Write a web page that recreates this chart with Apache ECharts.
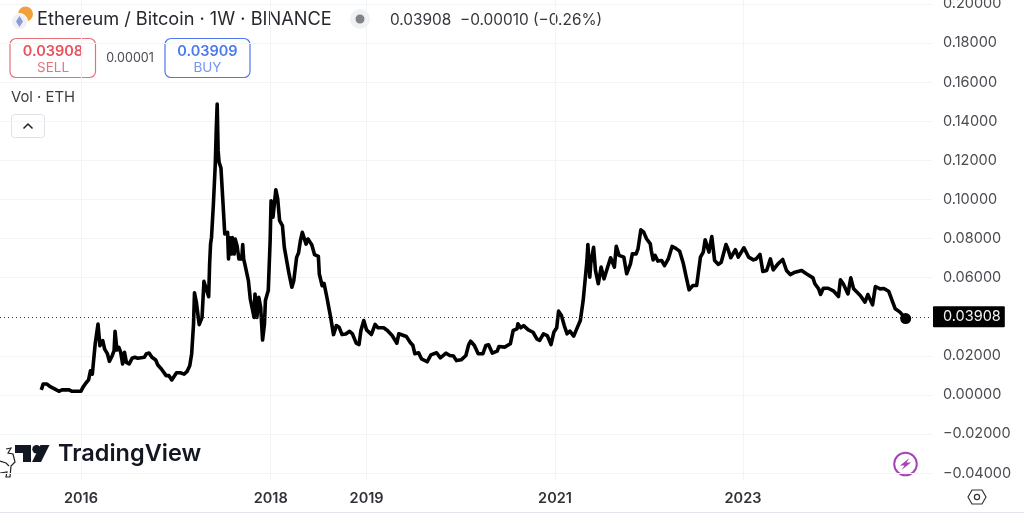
<!DOCTYPE html>
<html>
<head>
<meta charset="utf-8">
<style>
html,body{margin:0;padding:0;background:#fff}
#main{width:1024px;height:515px}
</style>
<script src="https://cdn.jsdelivr.net/npm/echarts@6/dist/echarts.min.js"></script>
</head>
<body>
<div id="main"></div>
<script>
// x positions are decimal years
var years = [2015.58,2015.60,2015.62,2015.64,2015.67,2015.71,2015.74,2015.77,2015.80,2015.83,2015.87,2015.90,2015.95,2016.00,2016.02,2016.05,2016.08,2016.10,2016.12,2016.13,
2016.15,2016.18,2016.20,2016.23,2016.25,2016.28,2016.30,2016.33,2016.35,2016.36,2016.38,2016.40,2016.42,2016.44,2016.46,2016.48,2016.51,2016.54,2016.57,2016.60,
2016.62,2016.67,2016.69,2016.72,2016.75,2016.79,2016.81,2016.85,2016.90,2016.93,2016.96,2016.98,2017.01,2017.05,2017.09,2017.12,2017.15,2017.17,2017.19,2017.20,
2017.22,2017.24,2017.25,2017.28,2017.30,2017.31,2017.33,2017.35,2017.36,2017.37,2017.38,2017.40,2017.42,2017.43,2017.44,2017.45,2017.46,2017.48,2017.50,2017.52,
2017.55,2017.56,2017.57,2017.59,2017.60,2017.62,2017.63,2017.65,2017.67,2017.70,2017.71,2017.72,2017.74,2017.77,2017.79,2017.80,2017.83,2017.84,2017.86,2017.88,
2017.90,2017.92,2017.94,2017.95,2017.98,2018.00,2018.01,2018.03,2018.06,2018.08,2018.10,2018.13,2018.15,2018.17,2018.20,2018.23,2018.25,2018.28,2018.30,2018.32,
2018.34,2018.36,2018.38,2018.40,2018.44,2018.47,2018.51,2018.52,2018.55,2018.57,2018.60,2018.62,2018.64,2018.66,2018.67,2018.70,2018.73,2018.76,2018.80,2018.84,
2018.87,2018.91,2018.94,2018.96,2018.99,2019.02,2019.07,2019.11,2019.14,2019.20,2019.24,2019.29,2019.34,2019.36,2019.39,2019.44,2019.48,2019.51,2019.53,2019.57,
2019.60,2019.66,2019.70,2019.76,2019.80,2019.86,2019.90,2019.94,2019.97,2020.02,2020.07,2020.10,2020.12,2020.16,2020.20,2020.25,2020.28,2020.31,2020.35,2020.40,
2020.42,2020.48,2020.54,2020.57,2020.61,2020.62,2020.65,2020.68,2020.73,2020.78,2020.82,2020.85,2020.89,2020.93,2020.97,2021.00,2021.03,2021.05,2021.08,2021.11,
2021.14,2021.17,2021.21,2021.25,2021.28,2021.31,2021.35,2021.36,2021.38,2021.39,2021.42,2021.44,2021.47,2021.50,2021.53,2021.58,2021.60,2021.64,2021.66,2021.69,
2021.74,2021.77,2021.79,2021.81,2021.83,2021.87,2021.89,2021.92,2021.95,2021.98,2022.02,2022.03,2022.05,2022.07,2022.10,2022.14,2022.17,2022.21,2022.25,2022.28,
2022.33,2022.37,2022.40,2022.43,2022.47,2022.51,2022.55,2022.58,2022.60,2022.64,2022.67,2022.70,2022.74,2022.77,2022.82,2022.84,2022.87,2022.92,2022.95,2023.01,
2023.06,2023.11,2023.14,2023.18,2023.21,2023.25,2023.29,2023.32,2023.37,2023.42,2023.46,2023.50,2023.55,2023.62,2023.67,2023.74,2023.76,2023.80,2023.82,2023.85,
2023.90,2023.96,2024.01,2024.03,2024.06,2024.11,2024.14,2024.17,2024.24,2024.29,2024.32,2024.37,2024.40,2024.45,2024.49,2024.54,2024.59,2024.61,2024.66,2024.72];

var prices = [.0026,.0056,.0060,.0056,.0044,.0034,.0026,.0019,.0027,.0026,.0027,.0020,.0019,.0020,.0039,.0060,.0077,.0124,.0107,.0159,
.0261,.0363,.0252,.0278,.0235,.0210,.0172,.0201,.0227,.0326,.0230,.0244,.0218,.0159,.0218,.0167,.0159,.0188,.0193,.0188,
.0189,.0193,.0210,.0215,.0193,.0179,.0155,.0133,.0099,.0099,.0077,.0080,.0114,.0114,.0107,.0119,.0150,.0210,.0363,.0523,
.0474,.0397,.0360,.0397,.0581,.0585,.0534,.0503,.0670,.0772,.0806,.0977,.1182,.1352,.1488,.1250,.1190,.1161,.0994,.0824,
.0832,.0696,.0806,.0721,.0806,.0721,.0798,.0764,.0696,.0696,.0769,.0696,.0653,.0585,.0491,.0491,.0397,.0517,.0397,.0500,
.0448,.0281,.0363,.0483,.0534,.0789,.0994,.0909,.1050,.1003,.0892,.0866,.0755,.0747,.0619,.0551,.0585,.0704,.0726,.0789,
.0832,.0837,.0772,.0798,.0769,.0718,.0709,.0619,.0559,.0571,.0500,.0448,.0397,.0397,.0309,.0355,.0346,.0309,.0312,.0326,
.0313,.0265,.0258,.0330,.0381,.0333,.0309,.0361,.0344,.0344,.0330,.0304,.0265,.0313,.0308,.0299,.0270,.0253,.0211,.0216,
.0185,.0170,.0205,.0216,.0190,.0214,.0202,.0199,.0176,.0180,.0202,.0258,.0275,.0253,.0211,.0211,.0253,.0257,.0214,.0224,
.0248,.0245,.0262,.0330,.0338,.0364,.0344,.0355,.0333,.0321,.0287,.0279,.0313,.0304,.0258,.0321,.0344,.0429,.0407,.0355,
.0313,.0327,.0301,.0347,.0381,.0483,.0688,.0770,.0603,.0671,.0756,.0637,.0569,.0654,.0594,.0671,.0702,.0654,.0761,.0714,
.0705,.0620,.0628,.0671,.0722,.0722,.0748,.0845,.0833,.0799,.0773,.0739,.0691,.0714,.0685,.0688,.0662,.0696,.0760,.0753,
.0736,.0671,.0603,.0538,.0560,.0560,.0705,.0731,.0794,.0731,.0811,.0688,.0668,.0679,.0770,.0748,.0702,.0743,.0705,.0753,
.0705,.0691,.0696,.0719,.0632,.0637,.0696,.0640,.0671,.0693,.0637,.0616,.0628,.0637,.0620,.0599,.0569,.0543,.0514,.0546,
.0546,.0531,.0504,.0589,.0569,.0517,.0599,.0543,.0509,.0475,.0514,.0461,.0555,.0543,.0545,.0531,.0466,.0441,.0424,.03908];

var priceTicks = [-0.04,-0.02,0,0.02,0.06,0.08,0.1,0.12,0.14,0.16,0.18,0.2];
var yearTicks = [2016,2018.006,2019.02,2021.012,2023];
var lastPrice = 0.03908;

var font = 'Inter, "Noto Sans", sans-serif';
var ink = '#131722';
var grid = '#f3f4f6';

var myChart = echarts.init(document.getElementById('main'), null, {renderer: 'canvas'});

var pairs = years.map(function(y, i){ return [y, prices[i]]; });

var option = {
    animation: false,
    backgroundColor: '#fff',
    grid: {left: 0, right: 92, top: 0, bottom: 35, outerBoundsMode: 'none'},
    xAxis: {
        type: 'value',
        min: 2015.1435,
        max: 2024.9986,
        axisLine: {show: false},
        axisTick: {show: false, customValues: yearTicks},
        splitLine: {show: true, lineStyle: {color: grid, width: 1}},
        axisLabel: {
            customValues: yearTicks,
            margin: 11,
            color: '#2f3136',
            fontFamily: font,
            fontSize: 14.5,
            fontWeight: 600,
            formatter: function(v){ return String(Math.floor(v)); }
        }
    },
    yAxis: {
        type: 'value',
        position: 'right',
        min: -0.04348,
        max: 0.20205,
        axisLine: {show: false},
        axisTick: {show: false, customValues: priceTicks},
        splitLine: {show: true, lineStyle: {color: grid, width: 1}},
        axisLabel: {
            customValues: priceTicks,
            margin: 11,
            color: '#4a4c52',
            fontFamily: font,
            fontSize: 14.5,
            formatter: function(v){ return v.toFixed(5).replace('-', '\u2212'); }
        }
    },
    series: [{
        type: 'line',
        data: pairs,
        symbol: 'none',
        lineStyle: {color: '#000', width: 3.6, join: 'round'},
        markLine: {
            silent: true,
            symbol: 'none',
            lineStyle: {color: '#333', type: [1, 3], width: 1},
            label: {
                show: true,
                position: 'end',
                distance: 1,
                formatter: lastPrice.toFixed(5),
                color: '#f4f4f4',
                backgroundColor: '#000',
                fontFamily: font,
                fontSize: 14.5,
                padding: [3, 4, 3, 10],
                borderRadius: 1
            },
            data: [{yAxis: lastPrice}]
        },
        markPoint: {
            silent: true,
            symbol: 'circle',
            symbolSize: 11,
            itemStyle: {color: '#000'},
            label: {show: false},
            data: [{coord: [years[years.length - 1], lastPrice]}]
        }
    }],
    graphic: [
        // bottom border
        {type: 'rect', shape: {x: 0, y: 512, width: 1024, height: 1}, style: {fill: '#e3e5ee'}},

        // coin icons
        {type: 'circle', shape: {cx: 25.5, cy: 14, r: 7.5}, style: {fill: '#f0a13c'}},
        {type: 'circle', shape: {cx: 19.5, cy: 21.5, r: 8}, style: {fill: '#eef0f6', stroke: '#fff', lineWidth: 1}},
        {type: 'polygon', shape: {points: [[19.5, 16], [23, 21.5], [19.5, 27], [16, 21.5]]}, style: {fill: '#8c9ad8'}},

        // header
        {type: 'text', style: {x: 37, y: 20, text: 'Ethereum / Bitcoin \u00b7 1W \u00b7 BINANCE', fill: '#26282e', font: '18.2px ' + font, textVerticalAlign: 'middle'}},
        {type: 'circle', shape: {cx: 360, cy: 19, r: 10}, style: {fill: '#f0f1f3'}},
        {type: 'circle', shape: {cx: 360, cy: 19, r: 4.5}, style: {fill: '#808287'}},
        {type: 'text', style: {x: 390, y: 20, text: '0.03908  \u22120.00010 (\u22120.26%)', fill: '#35373d', font: '15.4px ' + font, textVerticalAlign: 'middle'}},

        // sell / buy
        {type: 'rect', shape: {x: 10, y: 38.5, width: 85.5, height: 39, r: 6}, style: {fill: '#fff', stroke: '#e4717a', lineWidth: 1.2}},
        {type: 'text', style: {x: 53, y: 52, text: '0.03908', fill: '#e8505b', font: '600 14.5px ' + font, textAlign: 'center', textVerticalAlign: 'middle'}},
        {type: 'text', style: {x: 53, y: 68, text: 'SELL', fill: '#e8757d', font: '13.5px ' + font, textAlign: 'center', textVerticalAlign: 'middle'}},
        {type: 'text', style: {x: 130, y: 58, text: '0.00001', fill: '#4a4c52', font: '12.5px ' + font, textAlign: 'center', textVerticalAlign: 'middle'}},
        {type: 'rect', shape: {x: 165, y: 38.5, width: 85, height: 39, r: 6}, style: {fill: '#fff', stroke: '#4f78f0', lineWidth: 1.2}},
        {type: 'text', style: {x: 207.5, y: 52, text: '0.03909', fill: '#4a78ee', font: '600 14.5px ' + font, textAlign: 'center', textVerticalAlign: 'middle'}},
        {type: 'text', style: {x: 207.5, y: 68, text: 'BUY', fill: '#7595ee', font: '13.5px ' + font, textAlign: 'center', textVerticalAlign: 'middle'}},

        // volume legend
        {type: 'text', style: {x: 11, y: 98, text: 'Vol \u00b7 ETH', fill: '#3a3c42', font: '14.8px ' + font, textVerticalAlign: 'middle'}},
        {type: 'rect', shape: {x: 11.5, y: 114.5, width: 33, height: 23, r: 3}, style: {fill: '#fff', stroke: '#dfe1e6', lineWidth: 1}},
        {type: 'polyline', shape: {points: [[23.5, 128.5], [28, 124], [32.5, 128.5]]}, style: {fill: 'none', stroke: '#222', lineWidth: 1.5}},

        // TradingView logo
        {type: 'polygon', shape: {points: [[15, 445], [31, 445], [31, 462], [23, 462], [23, 453], [15, 453]]}, style: {fill: ink}},
        {type: 'circle', shape: {cx: 36.5, cy: 449.3, r: 4.2}, style: {fill: ink}},
        {type: 'polygon', shape: {points: [[40.5, 445], [49.5, 445], [41, 462], [32, 462]]}, style: {fill: ink}},
        {type: 'text', style: {x: 58, y: 454, text: 'TradingView', fill: ink, font: '600 23.5px ' + font, textVerticalAlign: 'middle'}},
        {type: 'polyline', shape: {points: [[6, 449], [11, 448], [8, 453], [13, 454], [15, 462], [11, 466], [10, 477], [6, 477], [7, 472], [0, 473]]}, style: {fill: 'none', stroke: '#222', lineWidth: 1.2}},
        {type: 'polyline', shape: {points: [[0, 461], [6, 463], [9, 466]]}, style: {fill: 'none', stroke: '#222', lineWidth: 1.2}},

        // bolt badge
        {type: 'circle', shape: {cx: 905.5, cy: 464, r: 11.3}, style: {fill: '#fff', stroke: '#a345b5', lineWidth: 2}},
        {type: 'polygon', shape: {points: [[909.5, 458], [900, 465.5], [904.5, 465.5], [901.5, 470], [911, 462.5], [906.5, 462.5]]}, style: {fill: '#a345b5'}},

        // settings hexagon
        {type: 'polygon', shape: {points: [[972, 490], [982, 490], [986, 497], [982, 504], [972, 504], [968, 497]]}, style: {fill: '#fff', stroke: '#333', lineWidth: 1.2}},
        {type: 'circle', shape: {cx: 977, cy: 497, r: 2.6}, style: {fill: '#fff', stroke: '#333', lineWidth: 1.2}}
    ]
};

myChart.setOption(option);

window.addEventListener('resize', function(){
    myChart.resize();
});
</script>
</body>
</html>
